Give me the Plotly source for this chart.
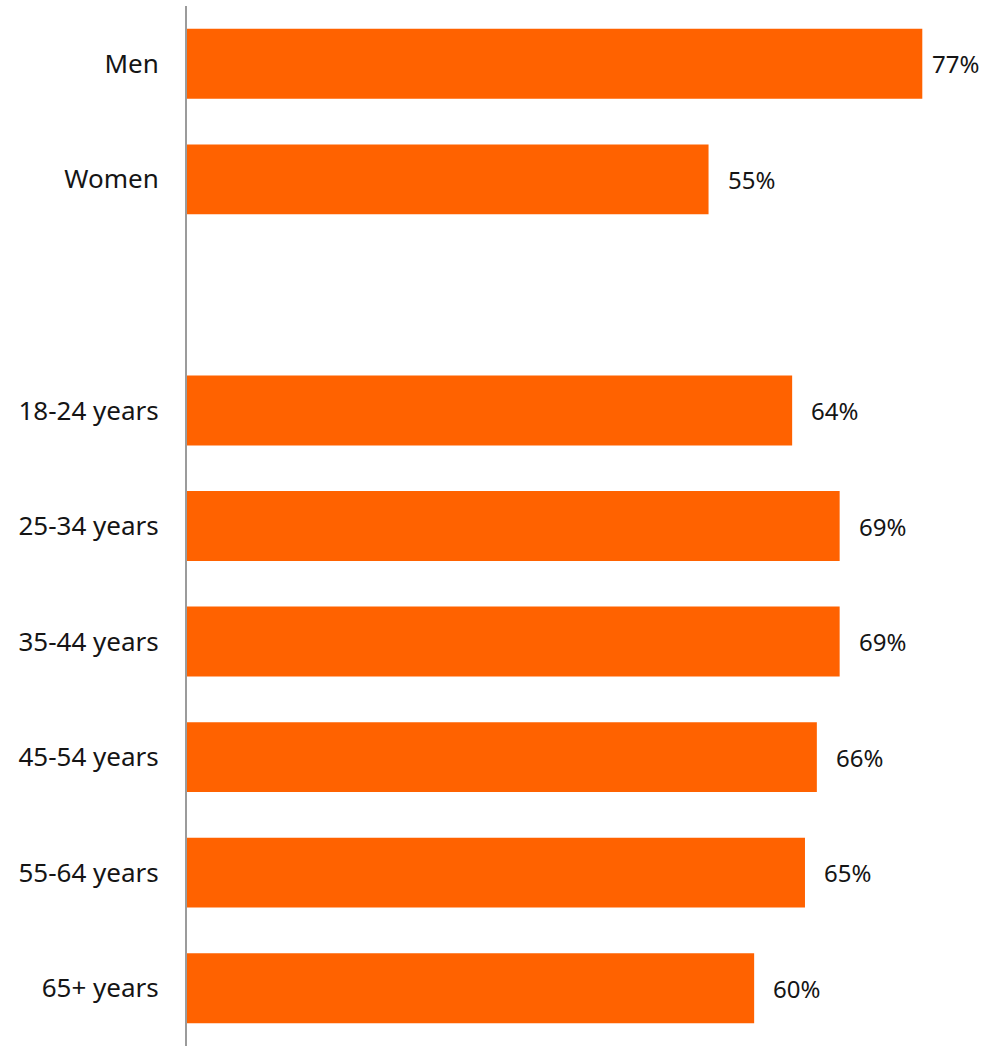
import plotly.graph_objects as go

categories = ["Men", "Women", " ", "18-24 years", "25-34 years", "35-44 years",
              "45-54 years", "55-64 years", "65+ years"]
values = [77.4, 54.9, None, 63.7, 68.7, 68.7, 66.3, 65.05, 59.7]
labels = ["77%", "55%", "", "64%", "69%", "69%", "66%", "65%", "60%"]
label_shift = [8, 17, 0, 17, 17, 17, 17, 17, 17]

ORANGE = "#FF6200"
FONT = "Noto Sans"

fig = go.Figure(go.Bar(
    x=values, y=categories, orientation="h",
    marker=dict(color=ORANGE, line=dict(width=0)),
    hoverinfo="skip",
))

for c, v, t, s in zip(categories, values, labels, label_shift):
    if v is None:
        continue
    fig.add_annotation(x=v, y=c, text=t, showarrow=False, xanchor="left",
                       xshift=s, font=dict(family=FONT, size=24, color="#151515"))

fig.update_layout(
    width=998, height=1046,
    margin=dict(l=187, r=0, t=6, b=0),
    paper_bgcolor="white", plot_bgcolor="white",
    bargap=0.395,
    showlegend=False,
    font=dict(family=FONT, size=24, color="#151515"),
    xaxis=dict(range=[0, 811 / 9.5], visible=False, fixedrange=True),
    yaxis=dict(type="category", categoryorder="array", categoryarray=categories,
               autorange="reversed", showline=True, linecolor="#9b9b9b", linewidth=2,
               showgrid=False, zeroline=False, ticks="", ticklabelstandoff=21,
               tickfont=dict(family=FONT, size=26, color="#151515")),
)

fig.write_html("out.html")
